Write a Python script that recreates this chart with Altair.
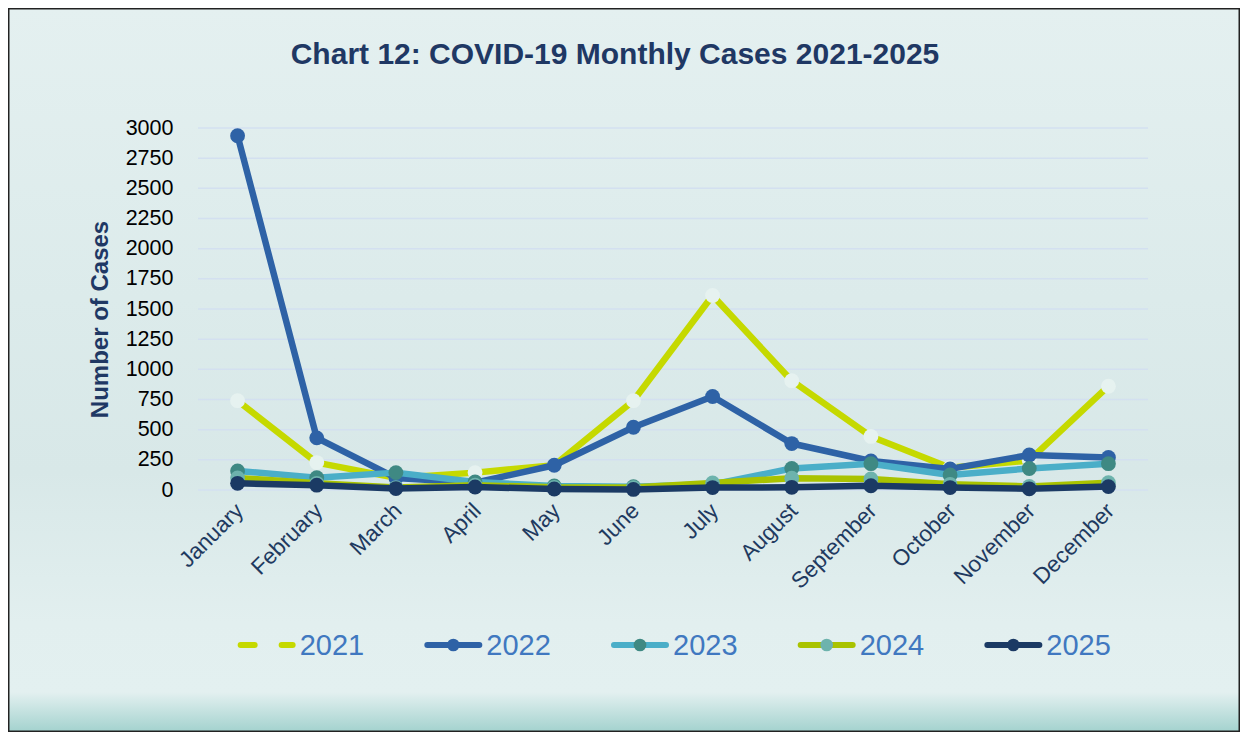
import altair as alt
import pandas as pd

months = ["January", "February", "March", "April", "May", "June", "July",
          "August", "September", "October", "November", "December"]
years = ["2021", "2022", "2023", "2024", "2025"]

cases_2021 = [740, 227, 100, 144, 205, 740, 1612, 906, 444, 185, 245, 860]
cases_2022 = [2936, 432, 100, 60, 205, 520, 775, 385, 240, 175, 290, 270]
cases_2023 = [158, 102, 144, 66, 33, 27, 47, 178, 218, 125, 178, 218]
cases_2024 = [100, 55, 20, 40, 22, 20, 58, 98, 92, 47, 30, 60]
cases_2025 = [55, 40, 12, 25, 8, 5, 20, 22, 35, 20, 10, 28]
series = [cases_2021, cases_2022, cases_2023, cases_2024, cases_2025]

line_colors = ["#c5d900", "#2e62a6", "#4aaec8", "#a9c300", "#1b3a64"]
marker_colors = ["#e6f2f0", "#2e62a6", "#3f8983", "#6db3ad", "#1b3a64"]
y_ticks = list(range(0, 3001, 250))

rows = []
for yr, vals in zip(years, series):
    for i, (m, v) in enumerate(zip(months, vals)):
        rows.append({"month": m, "mi": i, "year": yr, "cases": v})
df = pd.DataFrame(rows)
one = pd.DataFrame({"k": [0]})
leg_df = pd.DataFrame({"year": years})
grid_df = pd.DataFrame({"cases": y_ticks})

W, H = 950, 362
PL, PT, PR, PB = 190, 120, 92, 242
navy = "#1f3864"

color_scale = alt.Scale(domain=years, range=line_colors)
fill_scale = alt.Scale(domain=years, range=marker_colors)
y_scale = alt.Scale(domain=[0, 3000], nice=False)

X = alt.X("month:O", sort=months,
          scale=alt.Scale(domain=months, type="point", padding=0.5),
          axis=alt.Axis(title=None, labelAngle=-45, labelFontSize=22.5,
                        labelColor="#1f3a60", labelFont="Liberation Sans",
                        labelPadding=9, labelOffset=-6, domain=False, ticks=False,
                        grid=False, zindex=1))
y_axis = alt.Axis(values=y_ticks, format="d", title="Number of Cases", titleFontSize=24,
                  titleFont="Liberation Sans", titleFontWeight="bold",
                  titleColor=navy, titlePadding=13, titleY=191, labelFontSize=21.5,
                  labelFont="Liberation Sans", labelColor="#000000",
                  labelPadding=25, domain=False, ticks=False, tickSize=0,
                  grid=False, zindex=1)
Y = alt.Y("cases:Q", scale=y_scale, axis=y_axis)

bg = alt.Chart(one).mark_rect(
    fill=alt.Gradient(gradient="linear", x1=0, x2=0, y1=0, y2=1, stops=[
        alt.GradientStop(offset=0.0, color="#e4f0f0"),
        alt.GradientStop(offset=0.40, color="#dcebeb"),
        alt.GradientStop(offset=0.64, color="#d8e8e8"),
        alt.GradientStop(offset=0.85, color="#e2efef"),
        alt.GradientStop(offset=0.945, color="#e3f0f0"),
        alt.GradientStop(offset=1.0, color="#a3d2ce"),
    ])
).encode(x=alt.value(-PL), x2=alt.value(W + PR), y=alt.value(-PT), y2=alt.value(H + PB))

border = alt.Chart(one).mark_rect(fillOpacity=0, stroke="#222222", strokeWidth=1.5).encode(
    x=alt.value(-PL + 0.75), x2=alt.value(W + PR - 0.75),
    y=alt.value(-PT + 0.75), y2=alt.value(H + PB - 0.75))

title = alt.Chart(one).mark_text(
    text="Chart 12: COVID-19 Monthly Cases 2021-2025", fontSize=30, fontWeight="bold",
    font="Liberation Sans", color=navy, align="center", baseline="middle"
).encode(x=alt.value(417), y=alt.value(-73))

grid = alt.Chart(grid_df).mark_rule(color="#d3e0f0", strokeWidth=1.5).encode(
    y=Y, x=alt.value(0), x2=alt.value(W))

main_layers = [grid]
for yr in years:
    sub = alt.Chart(df).transform_filter(alt.datum.year == yr)
    main_layers.append(sub.mark_line(strokeWidth=6.5, strokeJoin="round", strokeCap="round").encode(
        x=X, y=Y, order=alt.Order("mi:Q"),
        color=alt.Color("year:N", scale=color_scale, legend=None)))
    main_layers.append(sub.mark_circle(size=220, opacity=1).encode(
        x=X, y=Y, fill=alt.Fill("year:N", scale=fill_scale, legend=None)))
main = alt.layer(*main_layers)

LX = alt.X("year:N", sort=years, scale=alt.Scale(domain=years, type="point", padding=0.5445), axis=None)
LY = 517
leg_rule = alt.Chart(leg_df).mark_rule(strokeWidth=6, strokeCap="round", xOffset=-59, x2Offset=-7).encode(
    x=LX, x2=alt.X2("year:N"), y=alt.value(LY),
    color=alt.Color("year:N", scale=color_scale, legend=None),
    strokeDash=alt.StrokeDash("year:N", scale=alt.Scale(domain=years,
                              range=[[14, 27], [1, 0], [1, 0], [1, 0], [1, 0]]), legend=None))
leg_pt = alt.Chart(leg_df).transform_filter(alt.datum.year != "2021").mark_circle(
    size=160, opacity=1, xOffset=-33).encode(
    x=LX, y=alt.value(LY), fill=alt.Fill("year:N", scale=fill_scale, legend=None))
leg_txt = alt.Chart(leg_df).mark_text(
    align="left", baseline="middle", fontSize=29, font="Liberation Sans",
    color="#4078c0").encode(x=LX, y=alt.value(LY + 1), text="year:N")
legend = alt.layer(leg_rule, leg_pt, leg_txt)

chart = alt.layer(bg, title, main, legend, border).resolve_scale(x="independent").properties(
    width=W, height=H,
    padding={"left": PL, "top": PT, "right": PR, "bottom": PB},
    autosize=alt.AutoSizeParams(type="none"),
    background="#e3efef",
).configure_view(stroke=None)

chart.save("out.html", embed_options={"renderer": "svg", "actions": False})
